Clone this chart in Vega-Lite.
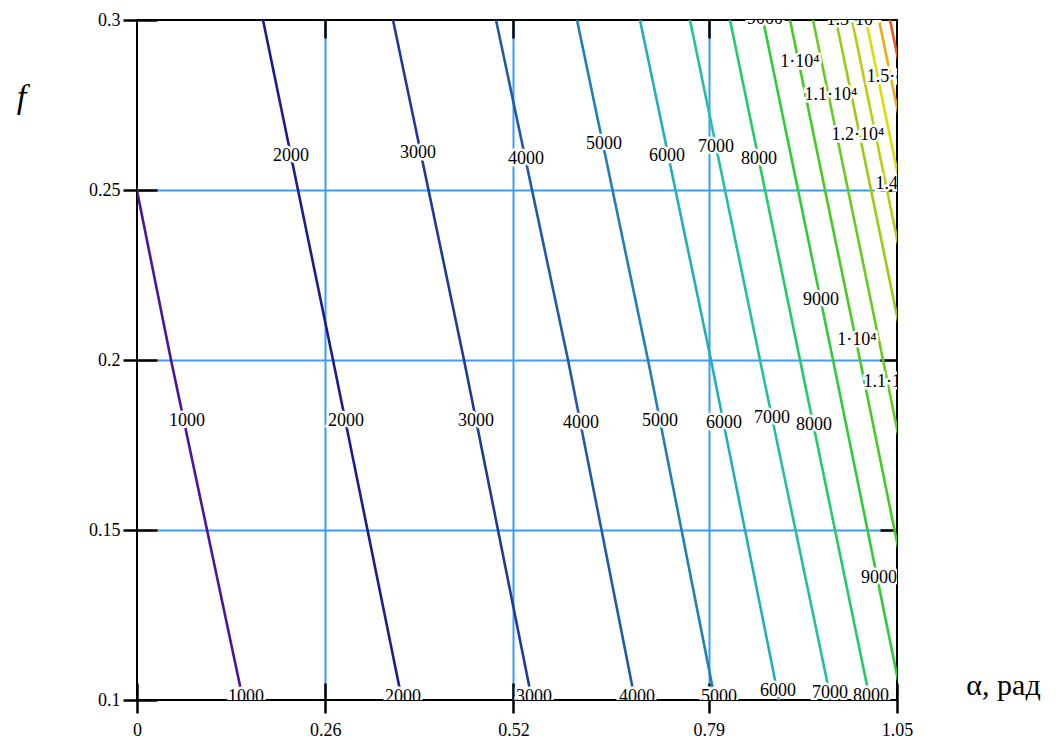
{
  "$schema": "https://vega.github.io/schema/vega-lite/v6.json",
  "width": 760,
  "height": 680,
  "autosize": {"type": "none"},
  "padding": {"left": 137, "top": 20, "right": 162, "bottom": 40},
  "background": "white",
  "config": {"view": {"stroke": "#000", "strokeWidth": 2}, "font": "Liberation Serif"},
  "datasets": {
    "lines": [
      {"level": "1000", "a": -0.0474, "f": 0.3}, {"level": "1000", "a": 0.047, "f": 0.2}, {"level": "1000", "a": 0.1465, "f": 0.1},
      {"level": "2000", "a": 0.1741, "f": 0.3}, {"level": "2000", "a": 0.2708, "f": 0.2}, {"level": "2000", "a": 0.3661, "f": 0.1},
      {"level": "3000", "a": 0.3537, "f": 0.3}, {"level": "3000", "a": 0.4518, "f": 0.2}, {"level": "3000", "a": 0.5457, "f": 0.1},
      {"level": "4000", "a": 0.496, "f": 0.3}, {"level": "4000", "a": 0.5955, "f": 0.2}, {"level": "4000", "a": 0.688, "f": 0.1},
      {"level": "5000", "a": 0.6079, "f": 0.3}, {"level": "5000", "a": 0.706, "f": 0.2}, {"level": "5000", "a": 0.7986, "f": 0.1},
      {"level": "6000", "a": 0.6949, "f": 0.3}, {"level": "6000", "a": 0.793, "f": 0.2}, {"level": "6000", "a": 0.887, "f": 0.1},
      {"level": "7000", "a": 0.764, "f": 0.3}, {"level": "7000", "a": 0.8607, "f": 0.2}, {"level": "7000", "a": 0.9588, "f": 0.1},
      {"level": "8000", "a": 0.8193, "f": 0.3}, {"level": "8000", "a": 0.916, "f": 0.2}, {"level": "8000", "a": 1.0127, "f": 0.1},
      {"level": "9000", "a": 0.8649, "f": 0.3}, {"level": "9000", "a": 0.9616, "f": 0.2}, {"level": "9000", "a": 1.0569, "f": 0.1},
      {"level": "10000", "a": 0.9022, "f": 0.3}, {"level": "10000", "a": 0.9989, "f": 0.2}, {"level": "10000", "a": 1.0942, "f": 0.1},
      {"level": "11000", "a": 0.934, "f": 0.3}, {"level": "11000", "a": 1.0307, "f": 0.2}, {"level": "11000", "a": 1.126, "f": 0.1},
      {"level": "12000", "a": 0.9657, "f": 0.3}, {"level": "12000", "a": 1.0625, "f": 0.2},
      {"level": "13000", "a": 0.9878, "f": 0.3}, {"level": "13000", "a": 1.0845, "f": 0.2},
      {"level": "14000", "a": 1.0072, "f": 0.3}, {"level": "14000", "a": 1.1039, "f": 0.2},
      {"level": "15000", "a": 1.0251, "f": 0.3}, {"level": "15000", "a": 1.1218, "f": 0.2},
      {"level": "16000", "a": 1.0403, "f": 0.3}, {"level": "16000", "a": 1.1371, "f": 0.2}
    ],
    "labels": [
      {"t": "2000", "a": 0.2128, "f": 0.26},
      {"t": "3000", "a": 0.3882, "f": 0.2609},
      {"t": "4000", "a": 0.5374, "f": 0.2591},
      {"t": "5000", "a": 0.6452, "f": 0.2635},
      {"t": "6000", "a": 0.7322, "f": 0.26},
      {"t": "7000", "a": 0.7999, "f": 0.2626},
      {"t": "8000", "a": 0.8594, "f": 0.2591},
      {"t": "9000", "a": 0.8676, "f": 0.3003},
      {"t": "1·10⁴", "a": 0.916, "f": 0.2876},
      {"t": "1.1·10⁴", "a": 0.9588, "f": 0.2779},
      {"t": "1.2·10⁴", "a": 0.9961, "f": 0.2662},
      {"t": "1.3·10⁴", "a": 0.9892, "f": 0.3},
      {"t": "1.5·10⁴", "a": 1.0445, "f": 0.2832},
      {"t": "1.4·10⁴", "a": 1.0569, "f": 0.2518},
      {"t": "1000", "a": 0.0691, "f": 0.1821},
      {"t": "2000", "a": 0.2888, "f": 0.1821},
      {"t": "3000", "a": 0.4684, "f": 0.1821},
      {"t": "4000", "a": 0.6134, "f": 0.1815},
      {"t": "5000", "a": 0.7226, "f": 0.1821},
      {"t": "6000", "a": 0.811, "f": 0.1815},
      {"t": "7000", "a": 0.8773, "f": 0.1829},
      {"t": "8000", "a": 0.9353, "f": 0.1809},
      {"t": "9000", "a": 0.945, "f": 0.2176},
      {"t": "1·10⁴", "a": 0.9947, "f": 0.2059},
      {"t": "1.1·10⁴", "a": 1.0403, "f": 0.1935},
      {"t": "9000", "a": 1.0251, "f": 0.1359},
      {"t": "1000", "a": 0.1506, "f": 0.1009},
      {"t": "2000", "a": 0.3675, "f": 0.1009},
      {"t": "3000", "a": 0.5485, "f": 0.1009},
      {"t": "4000", "a": 0.6908, "f": 0.1009},
      {"t": "5000", "a": 0.8041, "f": 0.1009},
      {"t": "6000", "a": 0.8856, "f": 0.1026},
      {"t": "7000", "a": 0.9574, "f": 0.1021},
      {"t": "8000", "a": 1.0141, "f": 0.1012}
    ]
  },
  "layer": [
    {
      "data": {"name": "lines"},
      "mark": {"type": "line", "clip": true, "strokeWidth": 2.6},
      "encoding": {
        "x": {
          "field": "a", "type": "quantitative",
          "scale": {"domain": [0, 1.05], "nice": false, "zero": false},
          "axis": {
            "orient": "bottom", "values": [0.26, 0.52, 0.79], "grid": true,
            "gridColor": "#3d9bf5", "gridWidth": 2, "gridOpacity": 1,
            "ticks": false, "labels": false, "domain": false,
            "title": "α, рад", "titleFont": "Liberation Serif", "titleFontSize": 30,
            "titleFontWeight": "normal", "titleColor": "#000",
            "titleX": 866, "titleY": -6, "titleAlign": "center", "titleBaseline": "alphabetic"
          }
        },
        "y": {
          "field": "f", "type": "quantitative",
          "scale": {"domain": [0.1, 0.3], "nice": false, "zero": false},
          "axis": {
            "orient": "left", "values": [0.15, 0.2, 0.25], "grid": true,
            "gridColor": "#3d9bf5", "gridWidth": 2, "gridOpacity": 1,
            "ticks": false, "labels": false, "domain": false,
            "title": "f", "titleFont": "Liberation Serif", "titleFontSize": 34,
            "titleFontStyle": "italic", "titleFontWeight": "normal", "titleColor": "#000",
            "titleAngle": 0, "titleX": -116, "titleY": 77, "titleAlign": "center", "titleBaseline": "middle"
          }
        },
        "color": {
          "field": "level", "type": "nominal",
          "scale": {
            "domain": ["1000", "2000", "3000", "4000", "5000", "6000", "7000", "8000", "9000", "10000", "11000", "12000", "13000", "14000", "15000", "16000"],
            "range": ["#4a14a0", "#1c1c8e", "#1e3a98", "#1f5aa8", "#2080b0", "#22b0b8", "#22c0a0", "#22cc66", "#2fcc3a", "#44cc22", "#66cc22", "#99cc11", "#bbcc11", "#dddd00", "#eeaa11", "#ee5511"]
          },
          "legend": null
        }
      }
    },
    {
      "data": {"name": "labels"},
      "mark": {"type": "text", "clip": true, "fontSize": 18, "font": "Liberation Serif", "fill": "white", "stroke": "white", "strokeWidth": 5, "align": "center", "baseline": "middle"},
      "encoding": {
        "x": {
          "field": "a", "type": "quantitative",
          "axis": {
            "orient": "bottom", "offset": -17, "values": [0, 0.26, 0.52, 0.79, 1.05], "format": ".2~f",
            "grid": false, "domain": false, "tickSize": 30, "tickWidth": 2.5, "tickColor": "#000",
            "labelPadding": 8, "labelFontSize": 18, "labelFont": "Liberation Serif", "labelColor": "#000",
            "labelFlush": false, "labelOverlap": false, "title": null
          }
        },
        "y": {
          "field": "f", "type": "quantitative",
          "axis": {
            "orient": "left", "offset": -20, "values": [0.1, 0.15, 0.2, 0.25, 0.3], "format": ".2~f",
            "grid": false, "domain": false, "tickSize": 34, "tickWidth": 2.5, "tickColor": "#000",
            "labelPadding": 3, "labelFontSize": 18, "labelFont": "Liberation Serif", "labelColor": "#000",
            "labelFlush": false, "labelOverlap": false, "title": null
          }
        },
        "text": {"field": "t"}
      }
    },
    {
      "data": {"name": "labels"},
      "mark": {"type": "text", "clip": true, "fontSize": 18, "font": "Liberation Serif", "fill": "#000", "align": "center", "baseline": "middle"},
      "encoding": {
        "x": {
          "field": "a", "type": "quantitative",
          "axis": {
            "orient": "top", "offset": -18, "values": [0.26, 0.52, 0.79],
            "grid": false, "domain": false, "labels": false, "tickSize": 18, "tickWidth": 2.5, "tickColor": "#000", "title": null
          }
        },
        "y": {
          "field": "f", "type": "quantitative",
          "axis": {
            "orient": "right", "offset": -17, "values": [0.15, 0.2, 0.25],
            "grid": false, "domain": false, "labels": false, "tickSize": 17, "tickWidth": 2.5, "tickColor": "#000", "title": null
          }
        },
        "text": {"field": "t"}
      }
    }
  ],
  "resolve": {"axis": {"x": "independent", "y": "independent"}}
}
